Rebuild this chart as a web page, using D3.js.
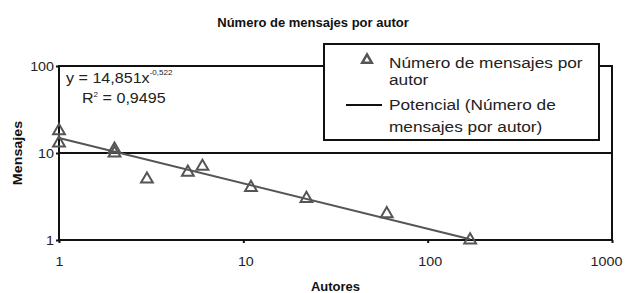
<!DOCTYPE html>
<html><head><meta charset="utf-8">
<script src="https://cdn.jsdelivr.net/npm/d3@7"></script>
<style>body{margin:0;background:#fff}svg{display:block;font-family:Arial,"Liberation Sans",sans-serif}</style>
</head><body><svg id="c" width="626" height="293"></svg>
<script>
const authors = [1, 1, 2, 2, 3, 5, 6, 11, 22, 60, 170];
const messages = [18, 13, 11, 10, 5, 6, 7, 4, 3, 2, 1];
const trendX = [1, 170];
const trendY = [14.851, 1.02];
const xTicks = [1, 10, 100, 1000];
const yTicks = [1, 10, 100];
const title = "Número de mensajes por autor";
const xLabel = "Autores", yLabel = "Mensajes";
const legendLabels = [["Número de mensajes por", "autor"], ["Potencial (Número de", "mensajes por autor)"]];

const svg = d3.select("#c");
const L = 59, R = 612, T = 66, B = 240;
const x = d3.scaleLog().domain([1, 1000]).range([L, R]);
const y = d3.scaleLog().domain([1, 100]).range([B, T]);
const ink = "#111", mark = "#555", txt = "#222";
const sx = 1.15; // horizontal text stretch seen in the reference

// frame
svg.append("rect").attr("x", L).attr("y", T).attr("width", R - L).attr("height", B - T)
  .attr("fill", "none").attr("stroke", ink).attr("stroke-width", 2);
// gridline
svg.selectAll(".g").data(yTicks.slice(1, -1)).join("line")
  .attr("x1", L).attr("x2", R).attr("y1", d => y(d)).attr("y2", d => y(d))
  .attr("stroke", ink).attr("stroke-width", 2);

// axes
const xa = svg.append("g").attr("transform", `translate(0,${B})`)
  .call(d3.axisBottom(x).tickValues(xTicks).tickFormat(d3.format("d")).tickSize(3).tickPadding(14));
const ya = svg.append("g").attr("transform", `translate(${L},0)`)
  .call(d3.axisLeft(y).tickValues(yTicks).tickFormat(d3.format("d")).tickSize(3).tickPadding(2));
[xa, ya].forEach(a => {
  a.select(".domain").remove();
  a.selectAll("line").attr("stroke", ink).attr("stroke-width", 2);
  a.selectAll("text").attr("font-size", 13).attr("fill", txt).attr("font-family", "Arial, 'Liberation Sans', sans-serif");
});
xa.selectAll(".tick text").attr("x", 0)
  .attr("transform", (d, i, n) => `translate(${i === n.length - 1 ? -6 : (i === 0 ? 0 : 2)},0) scale(1.1,1)`);
ya.selectAll(".tick text").attr("transform", `translate(-5,0) scale(1.1,1)`).attr("x", 0);

// trendline
svg.append("path").datum(trendX.map((d, i) => [d, trendY[i]]))
  .attr("d", d3.line().x(d => x(d[0])).y(d => y(d[1])))
  .attr("fill", "none").attr("stroke", mark).attr("stroke-width", 2);

// markers
const tri = d3.symbol().type(d3.symbolTriangle).size(60);
svg.selectAll(".pt").data(authors.map((d, i) => [d, messages[i]])).join("path")
  .attr("d", tri).attr("transform", d => `translate(${x(d[0])},${y(d[1])})`)
  .attr("fill", "none").attr("stroke", mark).attr("stroke-width", 2);

function stretchText(px, py, size) {
  return svg.append("text").attr("transform", `translate(${px},${py}) scale(${sx},1)`)
    .attr("font-size", size).attr("fill", txt);
}

// equation
const eq = stretchText(66, 83, 14);
eq.append("tspan").text("y = 14,851x");
eq.append("tspan").attr("dy", -8).attr("font-size", 7).text("-0,522");
const r2 = stretchText(82, 103, 14);
r2.append("tspan").text("R");
r2.append("tspan").attr("dy", -6).attr("font-size", 7).text("2");
r2.append("tspan").attr("dy", 6).text(" = 0,9495");

// legend
const lg = svg.append("g");
lg.append("rect").attr("x", 324).attr("y", 44).attr("width", 275).attr("height", 96)
  .attr("fill", "#fff").attr("stroke", ink).attr("stroke-width", 2);
lg.append("path").attr("d", d3.symbol().type(d3.symbolTriangle).size(40)).attr("transform", "translate(367,60)")
  .attr("fill", "none").attr("stroke", mark).attr("stroke-width", 2.5);
lg.append("line").attr("x1", 346).attr("x2", 382).attr("y1", 105).attr("y2", 105)
  .attr("stroke", ink).attr("stroke-width", 2);
const ly = [[63, 80], [105, 127]];
legendLabels.forEach((lines, i) => {
  lines.forEach((t, j) => lg.append("text")
    .attr("transform", `translate(389,${ly[i][j] + 5}) scale(${sx},1)`)
    .attr("font-size", 15).attr("fill", txt).text(t));
});

// titles
svg.append("text").attr("x", 313).attr("y", 27).attr("text-anchor", "middle")
  .attr("font-size", 13).attr("font-weight", "bold").attr("fill", "#111").text(title);
svg.append("text").attr("x", (L + R) / 2).attr("y", 291).attr("text-anchor", "middle")
  .attr("font-size", 13).attr("font-weight", "bold").attr("fill", "#111").text(xLabel);
svg.append("text").attr("transform", `translate(22,${(T + B) / 2}) rotate(-90) scale(1.1,1)`).attr("text-anchor", "middle")
  .attr("font-size", 13).attr("font-weight", "bold").attr("fill", "#111").text(yLabel);
</script></body></html>
